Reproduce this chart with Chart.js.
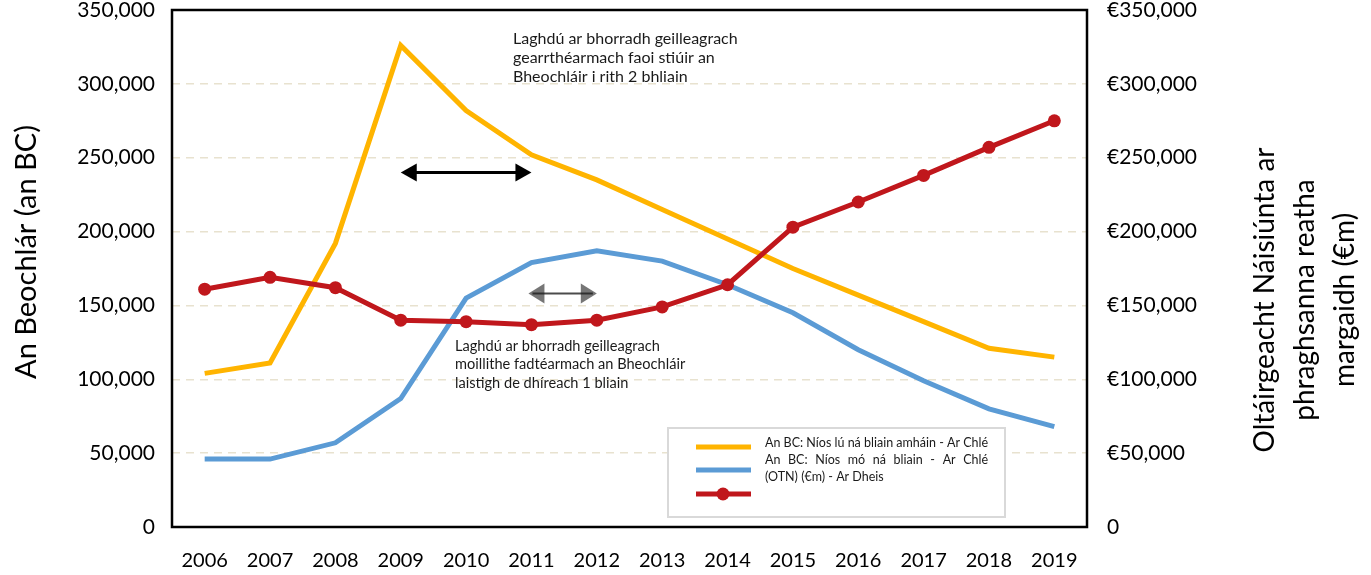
<!DOCTYPE html>
<html>
<head>
<meta charset="utf-8">
<script src="https://cdn.jsdelivr.net/npm/chart.js@4.4.1/dist/chart.umd.min.js"></script>
<style>
    body { margin: 0; background: #fff; }
    #wrap { width: 1371px; height: 575px; position: relative; }
</style>
</head>
<body>
<div id="wrap"><canvas id="BCChart"></canvas></div>
<script>
const years = ['2006', '2007', '2008', '2009', '2010', '2011', '2012', '2013', '2014', '2015', '2016', '2017', '2018', '2019'];
const bcShort = [104000, 111000, 192000, 326000, 282000, 252000, 235000, 215000, 195000, 175000, 157000, 139000, 121000, 115000];
const bcLong = [46000, 46000, 57000, 87000, 155000, 179000, 187000, 180000, 164000, 145000, 120000, 99000, 80000, 68000];
const gnp = [161000, 169000, 162000, 140000, 139000, 137000, 140000, 149000, 164000, 203000, 220000, 238000, 257000, 275000];

const legendLabels = [
    'An BC: Níos lú ná bliain amháin - Ar Chlé',
    'An BC:  Níos mó ná bliain - Ar Chlé',
    '(OTN) (€m) - Ar Dheis'
];
const leftTitle = 'An Beochlár (an BC)';
const rightTitle = ['Oltáirgeacht Náisiúnta ar', 'phraghsanna reatha', 'margaidh (€m)'];
const noteTop = ['Laghdú ar bhorradh geilleagrach', 'gearrthéarmach faoi stiúir an', 'Bheochláir i rith 2 bhliain'];
const noteBottom = ['Laghdú ar bhorradh geilleagrach', 'moillithe fadtéarmach an Bheochláir', 'laistigh de dhíreach 1 bliain'];

const YELLOW = '#ffb400';
const BLUE = '#5b9bd5';
const RED = '#c0171c';
const FONT = 'Lato, "Open Sans", sans-serif';

function drawArrow(ctx, x1, x2, y, headLen, headHalf, headColor, lineColor, lineWidth) {
    ctx.save();
    ctx.fillStyle = headColor;
    ctx.beginPath();
    ctx.moveTo(x1, y);
    ctx.lineTo(x1 + headLen, y - headHalf);
    ctx.lineTo(x1 + headLen, y + headHalf);
    ctx.closePath();
    ctx.fill();
    ctx.beginPath();
    ctx.moveTo(x2, y);
    ctx.lineTo(x2 - headLen, y - headHalf);
    ctx.lineTo(x2 - headLen, y + headHalf);
    ctx.closePath();
    ctx.fill();
    ctx.strokeStyle = lineColor;
    ctx.lineWidth = lineWidth;
    ctx.beginPath();
    ctx.moveTo(x1 + 4, y);
    ctx.lineTo(x2 - 4, y);
    ctx.stroke();
    ctx.restore();
}

function justifyText(ctx, text, x, y, width) {
    let words = text.split(/\s+/);
    let total = 0;
    words.forEach(function (w) { total += ctx.measureText(w).width; });
    let gap = (width - total) / (words.length - 1);
    let cx = x;
    words.forEach(function (w) {
        ctx.fillText(w, cx, y);
        cx += ctx.measureText(w).width + gap;
    });
}

// axis label overflow would push the plot down, the original plot starts at the very top
function noPad(s) {
    s.paddingTop = 0;
    s.paddingBottom = 0;
}

const extras = {
    id: 'extras',
    afterDatasetsDraw: function (chart) {
        const ctx = chart.ctx;
        const area = chart.chartArea;
        const xs = chart.scales.x;
        const ys = chart.scales.y;

        // frame
        ctx.save();
        ctx.strokeStyle = '#000';
        ctx.lineWidth = 2.5;
        ctx.strokeRect(area.left, area.top, area.right - area.left, area.bottom - area.top);
        ctx.restore();

        // arrows
        drawArrow(ctx, xs.getPixelForValue(3), xs.getPixelForValue(5), ys.getPixelForValue(240000),
            16, 9, '#000', '#000', 3);
        drawArrow(ctx, xs.getPixelForValue(5) - 3, xs.getPixelForValue(6), ys.getPixelForValue(158000),
            16, 10, 'rgba(60,60,60,0.7)', 'rgba(30,30,30,0.8)', 2);

        // notes
        ctx.save();
        ctx.fillStyle = '#1a1a1a';
        ctx.textBaseline = 'middle';
        ctx.textAlign = 'left';
        ctx.font = '16px ' + FONT;
        noteTop.forEach(function (line, i) {
            ctx.fillText(line, 513, 39 + i * 19);
        });
        ctx.font = '14.6px ' + FONT;
        noteBottom.forEach(function (line, i) {
            ctx.fillText(line, 455, 346 + i * 18.5);
        });
        ctx.restore();

        // legend
        ctx.save();
        ctx.fillStyle = '#fff';
        ctx.fillRect(668, 428, 337, 89);
        ctx.strokeStyle = '#d9d9d9';
        ctx.lineWidth = 2;
        ctx.strokeRect(668, 428, 337, 89);
        let samples = [[YELLOW, 447], [BLUE, 470], [RED, 494]];
        samples.forEach(function (s) {
            ctx.strokeStyle = s[0];
            ctx.lineWidth = 5;
            ctx.beginPath();
            ctx.moveTo(696, s[1]);
            ctx.lineTo(751, s[1]);
            ctx.stroke();
        });
        ctx.fillStyle = RED;
        ctx.beginPath();
        ctx.arc(723, 494, 6.5, 0, Math.PI * 2);
        ctx.fill();
        ctx.fillStyle = '#1a1a1a';
        ctx.textBaseline = 'middle';
        ctx.font = '12.5px ' + FONT;
        let textW = ctx.measureText(legendLabels[0]).width;
        ctx.fillText(legendLabels[0], 765, 443);
        justifyText(ctx, legendLabels[1], 765, 460, textW);
        ctx.fillText(legendLabels[2], 765, 477);
        ctx.restore();

        // axis titles
        ctx.save();
        ctx.fillStyle = '#000';
        ctx.font = '29px ' + FONT;
        ctx.textAlign = 'center';
        ctx.textBaseline = 'middle';
        ctx.translate(27, 252);
        ctx.rotate(-Math.PI / 2);
        ctx.fillText(leftTitle, 0, 0);
        ctx.restore();

        ctx.save();
        ctx.fillStyle = '#000';
        ctx.font = '28px ' + FONT;
        ctx.textAlign = 'center';
        ctx.textBaseline = 'middle';
        rightTitle.forEach(function (line, i) {
            ctx.save();
            ctx.translate(1265 + i * 40, 300);
            ctx.rotate(-Math.PI / 2);
            ctx.fillText(line, 0, 0);
            ctx.restore();
        });
        ctx.restore();
    }
};

const chart = new Chart(
    document.getElementById('BCChart'),
    {
        type: 'line',
        data: {
            labels: years,
            datasets: [
                {
                    label: legendLabels[2],
                    data: gnp,
                    yAxisID: 'y1',
                    borderColor: RED,
                    backgroundColor: RED,
                    borderWidth: 5,
                    pointRadius: 6.5,
                    pointBackgroundColor: RED,
                    pointBorderWidth: 0,
                    order: 0
                },
                {
                    label: legendLabels[1],
                    data: bcLong,
                    yAxisID: 'y',
                    borderColor: BLUE,
                    borderWidth: 5,
                    pointRadius: 0,
                    order: 1
                },
                {
                    label: legendLabels[0],
                    data: bcShort,
                    yAxisID: 'y',
                    borderColor: YELLOW,
                    borderWidth: 5,
                    pointRadius: 0,
                    order: 2
                }
            ]
        },
        options: {
            responsive: true,
            maintainAspectRatio: false,
            animation: false,
            layout: {
                padding: {top: 10, left: 0, right: 0, bottom: 0}
            },
            scales: {
                x: {
                    offset: true,
                    grid: {display: false, drawTicks: false},
                    border: {display: false},
                    ticks: {
                        color: '#000',
                        font: {family: FONT, size: 20},
                        padding: 22,
                        maxRotation: 0
                    },
                    afterFit: function (s) { s.height = 48; }
                },
                y: {
                    position: 'left',
                    min: 0,
                    max: 350000,
                    grid: {
                        color: '#e8e2cf',
                        lineWidth: 1.5,
                        drawTicks: false
                    },
                    border: {display: false, dash: [8, 6]},
                    ticks: {
                        stepSize: 50000,
                        color: '#000',
                        font: {family: FONT, size: 21},
                        padding: 17,
                        callback: function (v) { return v.toLocaleString('en-US'); }
                    },
                    afterFit: function (s) { s.width = 172; noPad(s); }
                },
                y1: {
                    position: 'right',
                    min: 0,
                    max: 350000,
                    grid: {display: false, drawTicks: false},
                    border: {display: false},
                    ticks: {
                        stepSize: 50000,
                        color: '#000',
                        font: {family: FONT, size: 21},
                        padding: 20,
                        callback: function (v) { return v === 0 ? '0' : '€' + v.toLocaleString('en-US'); }
                    },
                    afterFit: function (s) { s.width = 1371 - 1087; noPad(s); }
                }
            },
            plugins: {
                legend: {display: false},
                tooltip: {enabled: false}
            }
        },
        plugins: [extras]
    }
)
</script>
</body>
</html>
